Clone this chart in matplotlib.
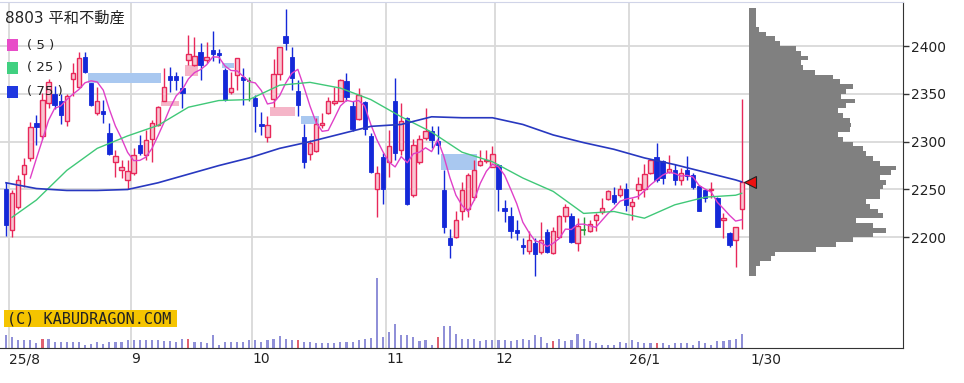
import numpy as np
import pandas as pd
import matplotlib
matplotlib.use('Agg')
import matplotlib.pyplot as plt
from matplotlib.patches import Rectangle
from matplotlib.lines import Line2D
import matplotlib.transforms as mtransforms

# ---------------- data ----------------
holidays = ['2025-08-11', '2025-09-15', '2025-09-23', '2025-10-13', '2025-11-03',
            '2025-11-24', '2025-12-31', '2026-01-01', '2026-01-02', '2026-01-12']
dates = pd.bdate_range('2025-07-31', '2026-01-30')
dates = dates[~dates.isin(pd.to_datetime(holidays))]

opens = [2250, 2208, 2232, 2266, 2283, 2320, 2306, 2340, 2350, 2343,
         2322, 2365, 2357, 2388, 2361, 2330, 2332, 2309, 2279, 2270,
         2260, 2267, 2297, 2286, 2303, 2317, 2343, 2369, 2369, 2356,
         2385, 2380, 2394, 2385, 2396, 2393, 2375, 2352, 2370, 2368,
         2363, 2346, 2318, 2305, 2345, 2371, 2410, 2388, 2353, 2305,
         2287, 2290, 2317, 2330, 2340, 2343, 2363, 2337, 2324, 2341,
         2306, 2251, 2284, 2279, 2343, 2291, 2325, 2244, 2279, 2304,
         2311, 2301, 2249, 2199, 2200, 2227, 2230, 2242, 2276, 2280,
         2274, 2276, 2231, 2222, 2208, 2192, 2186, 2194, 2185, 2206,
         2184, 2200, 2222, 2222, 2194, 2208, 2207, 2218, 2226, 2240,
         2244, 2244, 2251, 2233, 2249, 2250, 2267, 2284, 2280, 2268,
         2270, 2260, 2270, 2265, 2254, 2249, 2249, 2241, 2218, 2204,
         2197, 2230]
highs = [2258, 2249, 2265, 2283, 2321, 2328, 2351, 2366, 2358, 2350,
         2350, 2382, 2394, 2394, 2361, 2357, 2344, 2320, 2291, 2281,
         2281, 2293, 2307, 2312, 2323, 2337, 2377, 2378, 2373, 2369,
         2412, 2409, 2403, 2404, 2416, 2397, 2377, 2373, 2387, 2377,
         2368, 2349, 2331, 2327, 2386, 2399, 2439, 2399, 2364, 2318,
         2302, 2325, 2330, 2347, 2357, 2365, 2372, 2343, 2356, 2342,
         2309, 2275, 2288, 2312, 2367, 2340, 2326, 2303, 2307, 2335,
         2316, 2316, 2270, 2209, 2228, 2258, 2267, 2281, 2291, 2291,
         2295, 2277, 2239, 2232, 2218, 2199, 2207, 2199, 2216, 2209,
         2211, 2223, 2235, 2225, 2220, 2221, 2218, 2225, 2241, 2249,
         2253, 2255, 2257, 2241, 2263, 2277, 2281, 2299, 2281, 2286,
         2277, 2272, 2285, 2267, 2255, 2251, 2258, 2242, 2225, 2206,
         2211, 2345]
lows = [2201, 2200, 2230, 2253, 2280, 2296, 2303, 2335, 2334, 2318,
        2316, 2348, 2356, 2372, 2337, 2328, 2319, 2286, 2263, 2262,
        2251, 2265, 2286, 2281, 2279, 2316, 2342, 2352, 2354, 2335,
        2380, 2379, 2364, 2382, 2384, 2382, 2342, 2350, 2354, 2338,
        2343, 2310, 2307, 2300, 2336, 2364, 2396, 2354, 2327, 2272,
        2281, 2289, 2314, 2329, 2338, 2343, 2342, 2311, 2323, 2307,
        2267, 2221, 2235, 2263, 2281, 2286, 2234, 2242, 2277, 2302,
        2293, 2287, 2204, 2178, 2199, 2218, 2221, 2239, 2275, 2278,
        2273, 2228, 2216, 2199, 2197, 2183, 2183, 2160, 2183, 2184,
        2183, 2200, 2216, 2194, 2186, 2202, 2206, 2207, 2224, 2239,
        2235, 2242, 2228, 2218, 2240, 2242, 2266, 2258, 2256, 2267,
        2255, 2255, 2260, 2251, 2227, 2237, 2241, 2211, 2199, 2190,
        2169, 2209]
closes = [2213, 2246, 2260, 2276, 2315, 2315, 2344, 2362, 2338, 2328,
          2348, 2372, 2387, 2373, 2338, 2342, 2329, 2287, 2285, 2274,
          2269, 2286, 2288, 2302, 2319, 2336, 2357, 2364, 2364, 2351,
          2392, 2390, 2380, 2389, 2392, 2391, 2344, 2356, 2387, 2364,
          2363, 2337, 2316, 2317, 2371, 2399, 2403, 2367, 2338, 2279,
          2299, 2318, 2320, 2343, 2342, 2364, 2347, 2313, 2349, 2313,
          2268, 2267, 2250, 2295, 2288, 2322, 2235, 2297, 2303, 2311,
          2302, 2297, 2211, 2192, 2218, 2249, 2265, 2270, 2280, 2281,
          2287, 2250, 2227, 2207, 2205, 2190, 2197, 2183, 2197, 2185,
          2207, 2222, 2232, 2195, 2212, 2208, 2214, 2223, 2231, 2248,
          2237, 2250, 2234, 2237, 2256, 2266, 2281, 2260, 2262, 2271,
          2260, 2267, 2264, 2253, 2227, 2241, 2251, 2211, 2220, 2192,
          2211, 2258]
volumes = [127, 110, 77, 77, 77, 50, 93, 93, 60, 60,
           60, 60, 60, 30, 40, 60, 43, 60, 60, 60,
           77, 83, 77, 77, 83, 77, 67, 67, 60, 93,
           93, 60, 60, 50, 127, 27, 60, 60, 60, 60,
           83, 83, 60, 77, 93, 117, 93, 77, 77, 60,
           60, 50, 50, 50, 50, 60, 60, 60, 77, 93,
           103, 703, 110, 160, 243, 127, 127, 110, 67, 77,
           27, 110, 217, 217, 143, 93, 93, 93, 67, 77,
           77, 77, 83, 67, 77, 93, 83, 127, 110, 50,
           67, 93, 67, 77, 143, 93, 67, 50, 33, 33,
           33, 60, 50, 77, 60, 50, 50, 50, 50, 33,
           50, 50, 50, 33, 67, 50, 33, 67, 67, 77,
           93, 143]

ma25_days = [1, 5, 10, 15, 20, 25, 30, 35, 40, 45, 50, 55, 60, 65, 70, 75, 80,
             85, 90, 95, 100, 105, 110, 115, 120, 121]
ma25 = [2221, 2239, 2270, 2293, 2306, 2317, 2336, 2343, 2344, 2359, 2362, 2356,
        2344, 2326, 2310, 2289, 2279, 2262, 2248, 2225, 2227, 2220, 2234, 2242,
        2244, 2246]
ma75_days = [0, 5, 10, 15, 20, 25, 30, 35, 40, 45, 50, 55, 60, 65, 70, 75, 80,
             85, 90, 95, 100, 105, 110, 115, 120, 121]
ma75 = [2257, 2251, 2249, 2249, 2250, 2257, 2266, 2275, 2283, 2293, 2300, 2308,
        2316, 2318, 2326, 2325, 2325, 2318, 2307, 2299, 2292, 2283, 2276, 2268,
        2260, 2258]

# price-volume profile (bin centres, relative volume)
profile_price = [2437.5, 2432.5, 2427.5, 2422.5, 2417.5, 2412.5, 2407.5, 2402.5,
                 2397.5, 2392.5, 2387.5, 2382.5, 2377.5, 2372.5, 2367.5, 2362.5,
                 2357.5, 2352.5, 2347.5, 2342.5, 2337.5, 2332.5, 2327.5, 2322.5,
                 2317.5, 2312.5, 2307.5, 2302.5, 2297.5, 2292.5, 2287.5, 2282.5,
                 2277.5, 2272.5, 2267.5, 2262.5, 2257.5, 2252.5, 2247.5, 2242.5,
                 2237.5, 2232.5, 2227.5, 2222.5, 2217.5, 2212.5, 2207.5, 2202.5,
                 2197.5, 2192.5, 2187.5, 2182.5, 2177.5, 2172.5, 2167.5, 2162.5]
profile_vol = [7, 7, 7, 7, 10, 17, 26, 31, 47, 52, 59, 52, 54, 66, 84, 91,
               104, 97, 92, 106, 97, 89, 94, 101, 102, 101, 89, 94, 104, 114, 117, 124,
               131, 147, 142, 131, 137, 134, 131, 131, 117, 121, 129, 134, 107, 124, 137, 124,
               104, 87, 67, 26, 22, 11, 7, 7]

title = '8803 平和不動産'
ma_labels = ['(5)', '(25)', '(75)']
copyright_text = '(C) KABUDRAGON.COM'
y_ticks = [2200, 2250, 2300, 2350, 2400]

# ---------------- styles ----------------
UP_EDGE = '#e8285a'
UP_FACE = '#f8c4d0'
DOWN = '#1428d8'
EVEN = '#2a9a3a'
MA5_C = '#e040c8'
MA25_C = '#40c878'
MA75_C = '#2838c0'
GRID = '#d9d9d9'

W, H = 964, 383
fig = plt.figure(figsize=(W / 100, H / 100), dpi=100)
fig.patch.set_facecolor('white')
rect = [0, 35 / H, 903 / W, 346 / H]

vax = fig.add_axes(rect)
ax = fig.add_axes(rect, sharex=vax)
ax.patch.set_alpha(0)

n = len(closes)
idx = np.arange(n)
o = np.array(opens, float)
h = np.array(highs, float)
l = np.array(lows, float)
c = np.array(closes, float)

# volume
is_sq = np.array([(d.weekday() == 4) and (8 <= d.day <= 14) for d in dates])
vcol = np.where(is_sq, '#e06070', '#9090d8')
vax.bar(idx, volumes, width=0.35, color=vcol, linewidth=0)
vax.set_ylim(0, 3460)
vax.axis('off')

# month grid & labels
month_start = [i for i in range(1, n) if dates[i].month != dates[i - 1].month]
labels = []
prev_year = None
for k, i in enumerate(month_start):
    d = dates[i]
    if k == 0 or d.year != prev_year:
        labels.append(f"{d.year % 100}/{d.month}")
    else:
        labels.append(str(d.month))
    prev_year = d.year
for i in month_start:
    ax.axvline(i - 0.5, color=GRID, lw=1.3, zorder=0)
for y in y_ticks:
    ax.axhline(y, color=GRID, lw=1.3, zorder=0)

tick_pos = [i - 0.5 for i in month_start] + [n + 0.5]
tick_lab = labels + [f"{dates[-1].month}/{dates[-1].day}"]
ax.set_xticks(tick_pos)
ax.set_xticklabels(tick_lab)
offset = mtransforms.ScaledTranslation(2 / 100, 0, fig.dpi_scale_trans)
for t in ax.get_xticklabels():
    t.set_ha('left')
    t.set_transform(t.get_transform() + offset)
ax.tick_params(axis='x', length=0, pad=3, labelsize=10, labelcolor='#222222')

# gaps (windows)
for i in range(1, n):
    if l[i] > h[i - 1]:
        lo, hi = h[i - 1], l[i]
        end = n - 0.5
        for j in range(i + 1, n):
            if l[j] <= lo:
                end = j - 0.5
                break
        ax.add_patch(Rectangle((i - 0.5, lo), end - (i - 0.5), hi - lo,
                               facecolor='#f5b5c8', edgecolor='none', zorder=1))
    elif h[i] < l[i - 1]:
        lo, hi = h[i], l[i - 1]
        end = n - 0.5
        for j in range(i + 1, n):
            if h[j] >= hi:
                end = j - 0.5
                break
        ax.add_patch(Rectangle((i - 0.5, lo), end - (i - 0.5), hi - lo,
                               facecolor='#a9c8f0', edgecolor='none', zorder=1))

# candles
colors = np.where(c > o, UP_EDGE, np.where(c < o, DOWN, EVEN))
ax.vlines(idx, l, h, colors=colors, lw=1.0, zorder=2)
bw = 0.72
for i in range(n):
    bottom = min(o[i], c[i])
    height = max(abs(c[i] - o[i]), 0.6)
    if c[i] > o[i]:
        ax.bar(i, height, bottom=bottom, width=bw, facecolor=UP_FACE,
               edgecolor=UP_EDGE, linewidth=1.0, zorder=3)
    elif c[i] < o[i]:
        ax.bar(i, height, bottom=bottom, width=bw, facecolor=DOWN,
               edgecolor=DOWN, linewidth=0.6, zorder=3)
    else:
        ax.hlines(c[i], i - bw / 2, i + bw / 2, colors=EVEN, lw=1.2, zorder=3)

# moving averages
ma5 = pd.Series(c).rolling(5).mean()
ax.plot(idx, ma5, color=MA5_C, lw=1.0, zorder=4)
ax.plot(ma25_days, ma25, color=MA25_C, lw=1.0, zorder=4)
ax.plot(ma75_days, ma75, color=MA75_C, lw=1.2, zorder=4)

ax.set_xlim(-0.987, 147.53)
ax.set_ylim(2084.3, 2446.0)
ax.yaxis.tick_right()
ax.set_yticks(y_ticks)
ax.tick_params(axis='y', direction='out', length=4, width=1, pad=2,
               labelsize=10, labelcolor='#222222', color='#333333')
ax.spines['left'].set_visible(False)
ax.spines['top'].set_color('#d0d4e8')
ax.spines['right'].set_color('#333333')
ax.spines['bottom'].set_color('#333333')

# volume-by-price profile
pax = fig.add_axes([749 / W, 35 / H, 154 / W, 346 / H], sharey=ax)
pax.barh(profile_price, profile_vol, height=5, left=0, color='#808080', linewidth=0)
pax.set_xlim(0, max(profile_vol) * 1.05)
pax.patch.set_alpha(0)
pax.axis('off')
ax.set_ylim(2084.3, 2446.0)

# last price marker
mk = Line2D([n + 0.3], [c[-1]], marker='<', markersize=8, color='#ee1111',
            markeredgecolor='#222222', markeredgewidth=0.8, linestyle='none',
            transform=ax.transData, zorder=10)
mk.set_clip_on(False)
fig.add_artist(mk)

# title & legend
fam = ['DejaVu Sans', 'Noto Sans CJK JP']
fig.text(5 / W, 1 - 18 / H, title, family=fam, fontsize=11, va='center', ha='left',
         color='#222222')
leg_colors = ['#e84cc8', '#40d080', '#2038e0']
leg_y = [45, 68, 92]
for lab, col, yy in zip(ma_labels, leg_colors, leg_y):
    fig.add_artist(Rectangle((7 / W, 1 - (yy + 5.5) / H), 11 / W, 11 / H,
                             transform=fig.transFigure, facecolor=col, edgecolor='none'))
    fig.text(27 / W, 1 - yy / H, lab.replace('(', '( ').replace(')', ' )'),
             family='DejaVu Sans', fontsize=9.5, va='center', ha='left', color='#222222')

# copyright box
fig.add_artist(Rectangle((4 / W, 1 - 327 / H), 173 / W, 17 / H,
                         transform=fig.transFigure, facecolor='#f5c400', edgecolor='none'))
fig.text(7 / W, 1 - 318.5 / H, copyright_text, family='DejaVu Sans Mono', fontsize=11,
         va='center', ha='left', color='#222222')

fig.savefig('out.png', dpi=100)
